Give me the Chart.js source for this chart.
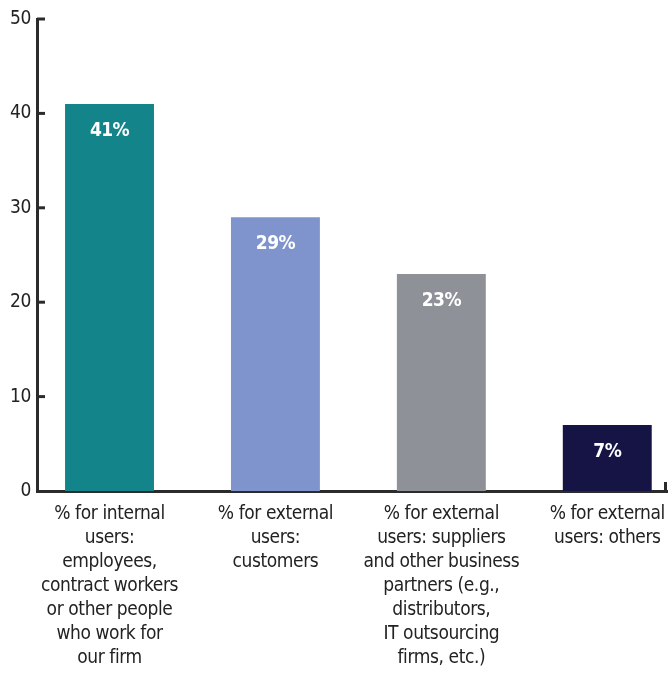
<!DOCTYPE html>
<html>
<head>
<meta charset="utf-8">
<script src="https://cdn.jsdelivr.net/npm/chart.js@4.4.1/dist/chart.umd.min.js"></script>
<style>
  html, body { margin: 0; padding: 0; background: #ffffff; }
  #wrap { width: 672px; height: 692px; position: relative; }
</style>
</head>
<body>
<div id="wrap"><canvas id="c" width="672" height="692"></canvas></div>
<script>
const categories = [
  ["% for internal", "users:", "employees,", "contract workers", "or other people", "who work for", "our firm"],
  ["% for external", "users:", "customers"],
  ["% for external", "users: suppliers", "and other business", "partners (e.g.,", "distributors,", "IT outsourcing", "firms, etc.)"],
  ["% for external", "users: others"]
];
const values = [41, 29, 23, 7];
const valueLabels = ["41%", "29%", "23%", "7%"];
const yTicks = [0, 10, 20, 30, 40, 50];
const barColors = ["#13858a", "#7f94cc", "#8e9298", "#161444"];

const FONT = "'DejaVu Sans Condensed', 'Liberation Sans Narrow', sans-serif";
const AXIS = "#2b2b2b";

const spacing = {
  id: "spacing",
  beforeInit(chart) { chart.ctx.letterSpacing = "-0.4px"; },
  beforeDraw(chart) { chart.ctx.letterSpacing = "-0.4px"; }
};

const decor = {
  id: "decor",
  afterDatasetsDraw(chart) {
    const ctx = chart.ctx;
    const y = chart.scales.y;
    const area = chart.chartArea;
    ctx.save();
    ctx.strokeStyle = AXIS;
    ctx.lineWidth = 3;
    yTicks.forEach(v => {
      if (v === 0) return;
      const py = y.getPixelForValue(v);
      ctx.beginPath();
      ctx.moveTo(area.left, py);
      ctx.lineTo(area.left + 8, py);
      ctx.stroke();
    });
    ctx.beginPath();
    ctx.moveTo(area.right - 1.5, area.bottom + 1);
    ctx.lineTo(area.right - 1.5, area.bottom - 9);
    ctx.stroke();
    const meta = chart.getDatasetMeta(0);
    ctx.fillStyle = "#ffffff";
    ctx.font = "bold 19px " + FONT;
    ctx.letterSpacing = "-0.6px";
    ctx.textAlign = "center";
    ctx.textBaseline = "middle";
    meta.data.forEach((bar, i) => {
      ctx.fillText(valueLabels[i], bar.x, bar.y + 27);
    });
    ctx.restore();
  }
};

new Chart(document.getElementById("c"), {
  type: "bar",
  data: {
    datasets: [{
      data: values.map((v, i) => ({ x: i, y: v })),
      backgroundColor: barColors,
      borderWidth: 0,
      categoryPercentage: 1,
      barPercentage: 0.536
    }]
  },
  options: {
    responsive: false,
    animation: false,
    layout: { padding: { top: 19, right: 5, left: 0, bottom: 0 } },
    plugins: { legend: { display: false }, tooltip: { enabled: false } },
    scales: {
      x: {
        type: "linear",
        offset: false,
        min: -0.437,
        max: 3.36,
        grid: { display: false, drawTicks: false, offset: false },
        border: { display: true, color: AXIS, width: 3 },
        afterBuildTicks(scale) { scale.ticks = [0, 1, 2, 3].map(v => ({ value: v })); },
        afterFit(scale) { scale.height = 201; scale.paddingLeft = 0; scale.paddingRight = 0; },
        ticks: {
          autoSkip: false,
          maxRotation: 0,
          padding: 11,
          color: "#222222",
          font: { family: FONT, size: 19, lineHeight: 1.263 },
          callback: (v) => categories[v]
        }
      },
      y: {
        min: 0,
        max: 50,
        grid: { display: false, drawTicks: false },
        border: { display: true, color: AXIS, width: 3 },
        afterBuildTicks(scale) { scale.ticks = yTicks.map(v => ({ value: v })); },
        afterFit(scale) { scale.width = 37; scale.paddingTop = 0; scale.paddingBottom = 0; },
        ticks: {
          padding: 6,
          color: "#222222",
          font: { family: FONT, size: 19 }
        }
      }
    }
  },
  plugins: [spacing, decor]
});
</script>
</body>
</html>
